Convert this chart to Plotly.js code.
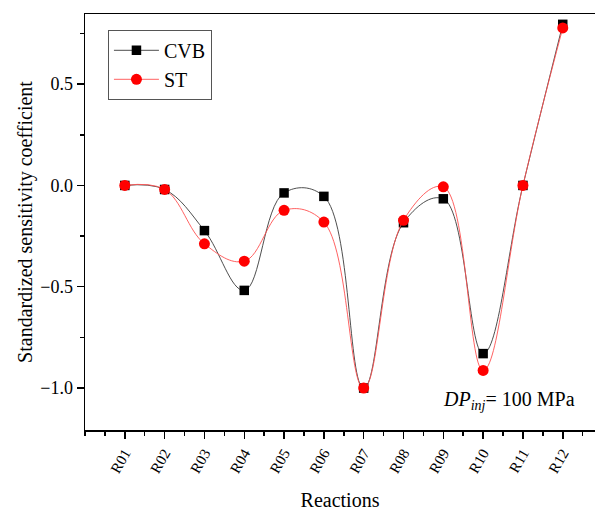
<!DOCTYPE html>
<html><head><meta charset="utf-8">
<script src="https://cdn.plot.ly/plotly-3.0.1.min.js"></script>
<style>body{margin:0;background:#fff}#chart{width:595px;height:514px}</style>
</head><body><div id="chart"></div>
<script>
const categories = ['R01','R02','R03','R04','R05','R06','R07','R08','R09','R10','R11','R12'];
const cvb = [0.0, -0.02, -0.223, -0.518, -0.037, -0.054, -1.0, -0.184, -0.066, -0.83, 0.0, 0.795];
const st  = [0.0, -0.02, -0.288, -0.374, -0.123, -0.181, -1.0, -0.172, -0.007, -0.913, 0.0, 0.777];
const xpos = categories.map((c, i) => i + 1);
const font = "'Liberation Serif', 'Times New Roman', serif";

const traces = [
  {x: xpos, y: cvb, name: 'CVB', type: 'scatter', mode: 'lines+markers',
   line: {color: '#3a3a3a', width: 0.9, shape: 'spline', smoothing: 1.1},
   marker: {symbol: 'square', size: 9.5, color: '#000'}},
  {x: xpos, y: st, name: 'ST', type: 'scatter', mode: 'lines+markers',
   line: {color: '#ff5050', width: 0.9, shape: 'spline', smoothing: 1.1},
   marker: {symbol: 'circle', size: 11, color: '#ff0000'}}
];

const layout = {
  width: 595, height: 514,
  margin: {l: 85, r: 0, t: 14, b: 84},
  paper_bgcolor: '#fff', plot_bgcolor: '#fff',
  font: {family: font, color: '#000'},
  showlegend: true,
  legend: {x: 0.045, y: 0.962, xanchor: 'left', yanchor: 'top',
    bordercolor: '#555', borderwidth: 1, bgcolor: '#fff', itemwidth: 45,
    font: {family: font, size: 20}, tracegroupgap: 0},
  xaxis: {range: [0, 12.81], showgrid: false, zeroline: false,
    showline: true, linecolor: '#000', linewidth: 1.5, mirror: true,
    tickvals: xpos, ticktext: categories,
    ticks: 'outside', ticklen: 7, tickwidth: 1.5, tickcolor: '#000',
    tickangle: -60, tickfont: {family: font, size: 15},
    minor: {dtick: 0.5, tick0: 0, ticks: 'outside', ticklen: 4, tickwidth: 1.5, tickcolor: '#000'},
    title: {text: 'Reactions', font: {family: font, size: 20}, standoff: 18}},
  yaxis: {range: [-1.207, 0.846], showgrid: false, zeroline: false,
    showline: true, linecolor: '#000', linewidth: 1.5, mirror: false,
    tickvals: [-1.0, -0.5, 0.0, 0.5], ticktext: ['\u22121.0', '\u22120.5', '0.0', '0.5'],
    ticks: 'outside', ticklen: 7, tickwidth: 1.5, tickcolor: '#000',
    tickfont: {family: font, size: 18},
    minor: {dtick: 0.25, tick0: 0, ticks: 'outside', ticklen: 4, tickwidth: 1.5, tickcolor: '#000'},
    title: {text: 'Standardized sensitivity coefficient', font: {family: font, size: 20}, standoff: 2}},
  annotations: [{xref: 'paper', yref: 'paper', x: 0.965, y: 0.07, xanchor: 'right', yanchor: 'middle',
    showarrow: false, font: {family: font, size: 20},
    text: '<i>DP</i><sub><i>inj</i></sub>= 100 MPa'}]
};
Plotly.newPlot('chart', traces, layout, {displayModeBar: false, staticPlot: true});
</script></body></html>
